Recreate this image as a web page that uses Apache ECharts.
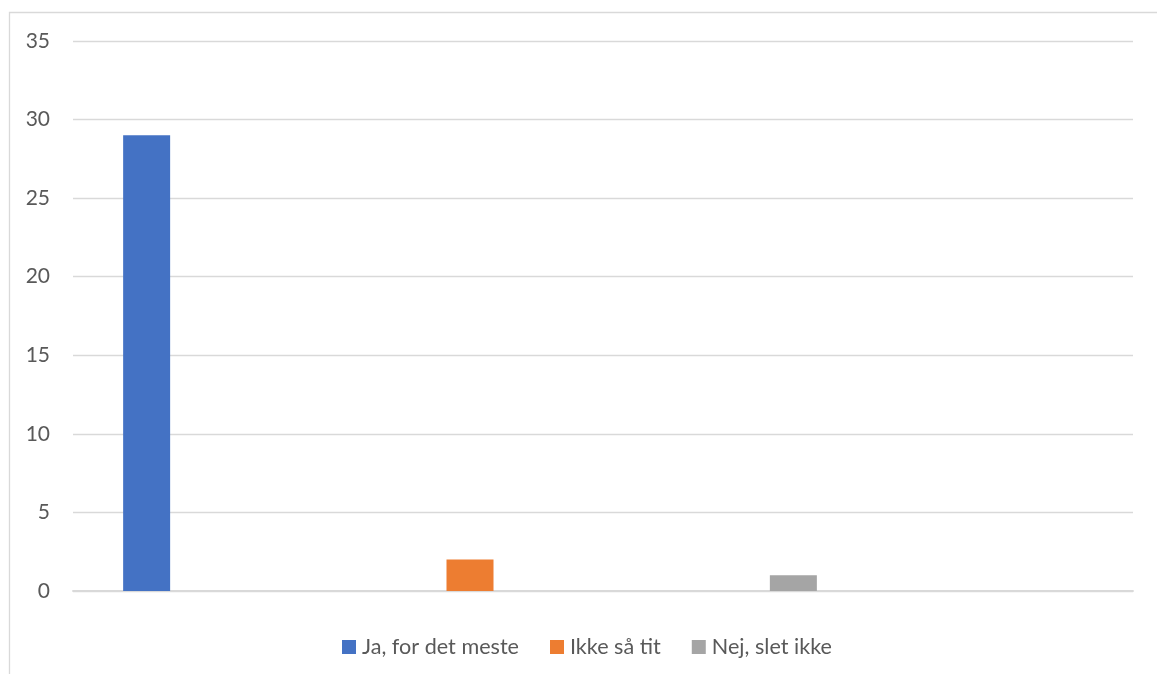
<!DOCTYPE html>
<html><head><meta charset="utf-8">
<script src="https://cdn.jsdelivr.net/npm/echarts@6/dist/echarts.min.js"></script>
<style>html,body{margin:0;padding:0;background:#fff}#c{width:1157px;height:674px}</style>
</head><body><div id="c"></div>
<script>
const categories = [''];
const seriesNames = ['Ja, for det meste', 'Ikke så tit', 'Nej, slet ikke'];
const seriesValues = [[29], [2], [1]];
const colors = ['#4472C4', '#ED7D31', '#A5A5A5'];
const yTicks = { min: 0, max: 35, interval: 5 };

const chart = echarts.init(document.getElementById('c'));
const font = 'Lato, "Open Sans", sans-serif';
chart.setOption({
  animation: false,
  graphic: [{ type: 'rect', shape: { x: 9.5, y: 12.5, width: 1170, height: 700 },
    style: { fill: 'none', stroke: '#d9d9d9', lineWidth: 1.3 }, silent: true }],
  grid: [
    { left: 73, right: 24, top: 41, bottom: 83 },
    { left: 73, width: 794, top: 41, bottom: 83 }
  ],
  legend: {
    top: 631, left: 337, itemWidth: 14, itemHeight: 14, itemGap: 31,
    icon: 'rect',
    textStyle: { color: '#595959', fontSize: 21.6, fontFamily: font, padding: [0, 0, 0, 1] },
    data: seriesNames
  },
  xAxis: [
    { gridIndex: 0, type: 'category', data: categories,
      axisLine: { lineStyle: { color: '#d9d9d9', width: 1.8 } },
      axisTick: { show: false }, axisLabel: { show: false } },
    { gridIndex: 1, type: 'category', data: categories, show: false }
  ],
  yAxis: [
    { gridIndex: 0, type: 'value', min: yTicks.min, max: yTicks.max, interval: yTicks.interval,
      axisLine: { show: false }, axisTick: { show: false },
      axisLabel: { color: '#595959', fontSize: 21, fontFamily: font, margin: 23 },
      splitLine: { lineStyle: { color: '#d9d9d9', width: 1.4 } } },
    { gridIndex: 1, type: 'value', min: yTicks.min, max: yTicks.max, interval: yTicks.interval, show: false }
  ],
  series: seriesNames.map((n, i) => ({
    name: n, type: 'bar', xAxisIndex: 1, yAxisIndex: 1,
    data: seriesValues[i], barWidth: 47, barGap: '588%',
    itemStyle: { color: colors[i] }
  }))
});
</script></body></html>
